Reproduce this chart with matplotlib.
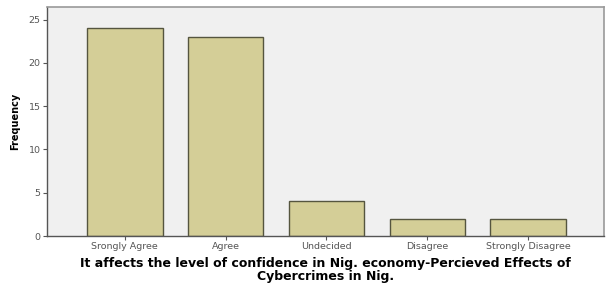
import matplotlib.pyplot as plt

categories = ['Srongly Agree', 'Agree', 'Undecided', 'Disagree', 'Strongly Disagree']
frequency = [24, 23, 4, 2, 2]
y_ticks = [0, 5, 10, 15, 20, 25]

fig = plt.figure(figsize=(6.06, 2.84), dpi=100)
ax = fig.add_axes([0.0776, 0.169, 0.919, 0.806])
ax.set_facecolor('#f0f0f0')

x = list(range(len(categories)))
ax.bar(x, frequency, width=0.75, color='#d4ce97', edgecolor='#55553f', linewidth=1.0, zorder=2)

ax.set_xlim(-0.77, 4.75)
ax.set_ylim(0, 26.45)
ax.set_xticks(x)
ax.set_xticklabels(categories, fontsize=6.8, color='#555555')
ax.set_yticks(y_ticks)
ax.set_yticklabels([str(v) for v in y_ticks], fontsize=6.8, color='#555555')
ax.tick_params(axis='both', length=3, width=0.8, color='#555555', pad=1.5)

for side in ['top', 'right']:
    ax.spines[side].set_color('#999999')
    ax.spines[side].set_linewidth(1.2)
for side in ['left', 'bottom']:
    ax.spines[side].set_color('#555555')
    ax.spines[side].set_linewidth(1.0)

ax.set_ylabel('Frequency', fontsize=7, fontweight='bold', labelpad=6)
ax.set_xlabel('It affects the level of confidence in Nig. economy-Percieved Effects of\nCybercrimes in Nig.',
              fontsize=9, fontweight='bold', labelpad=4, linespacing=1.0)

fig.savefig('out.png', dpi=100)
